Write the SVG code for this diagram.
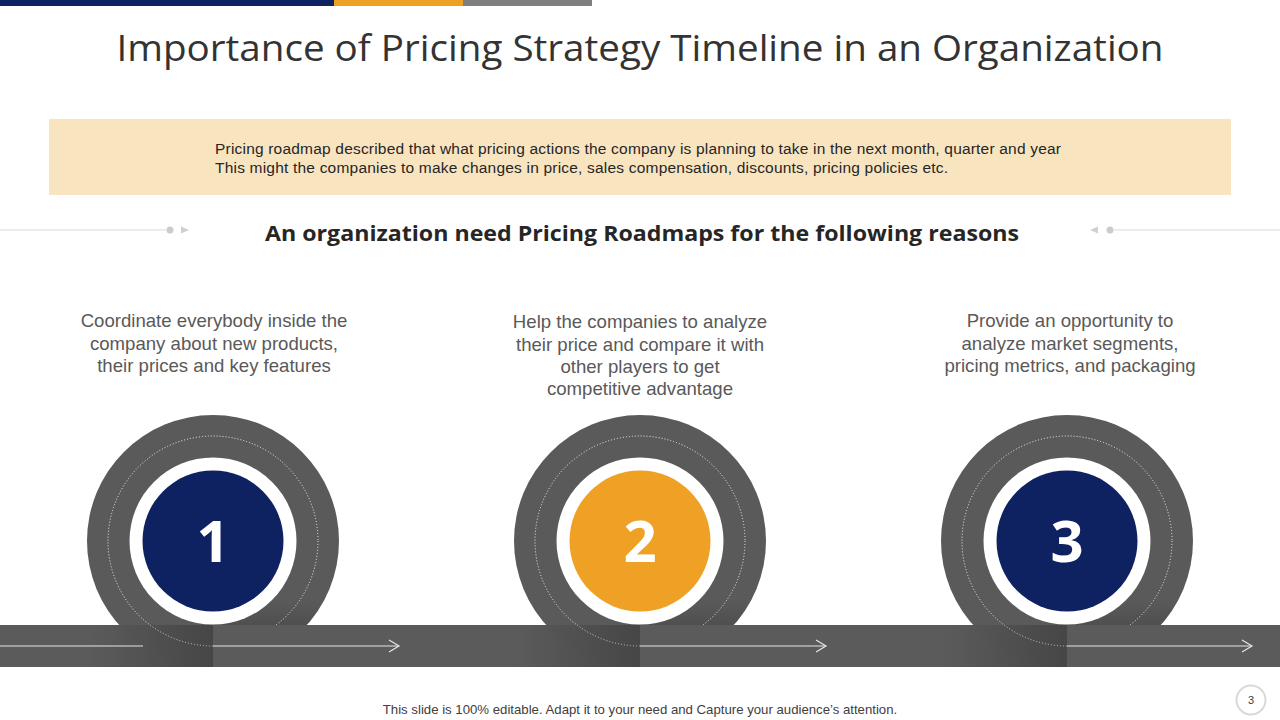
<svg xmlns="http://www.w3.org/2000/svg" width="1280" height="720" viewBox="0 0 1280 720">
<defs>
<style>
.title{font-family:"Open Sans","Liberation Sans",sans-serif;font-size:36px;fill:#333333;}
.box{font-family:"Liberation Sans",Arial,sans-serif;font-size:15.5px;fill:#262626;}
.head{font-family:"Open Sans","Liberation Sans",sans-serif;font-size:22px;font-weight:bold;fill:#262626;}
.body{font-family:"Liberation Sans",Arial,sans-serif;font-size:18.6px;fill:#595959;text-anchor:middle;}
.num{font-family:"Open Sans","Liberation Sans",sans-serif;font-size:58px;font-weight:bold;fill:#ffffff;text-anchor:middle;}
.foot{font-family:"Liberation Sans",Arial,sans-serif;font-size:13.2px;fill:#404040;text-anchor:middle;}
.outer{fill:#5a5a5a;}
.dots{fill:none;stroke:#f2f2f2;stroke-width:1;stroke-dasharray:1 2;}
.ring{fill:#ffffff;}
.bar{fill:#5b5b5b;}
.arrow{fill:none;stroke:#e6e6e6;stroke-width:1.2;}
.deco{stroke:#d9d9d9;stroke-width:1.2;fill:none;}
</style>
<linearGradient id="shade" x1="0" y1="0" x2="1" y2="0">
<stop offset="0" stop-color="#000" stop-opacity="0"/>
<stop offset="1" stop-color="#000" stop-opacity="0.22"/>
</linearGradient>
<linearGradient id="topshade" x1="0" y1="0" x2="0" y2="1">
<stop offset="0" stop-color="#000" stop-opacity="0"/>
<stop offset="1" stop-color="#000" stop-opacity="0.2"/>
</linearGradient>
<clipPath id="c1"><circle cx="213" cy="541" r="126"/></clipPath>
<clipPath id="c2"><circle cx="640" cy="541" r="126"/></clipPath>
<clipPath id="c3"><circle cx="1067" cy="541" r="126"/></clipPath>
</defs>
<rect width="1280" height="720" fill="#ffffff"/>
<g id="topbars">
<rect x="0" y="0" width="334" height="6" fill="#0e2160"/>
<rect x="334" y="0" width="129" height="6" fill="#eea124"/>
<rect x="463" y="0" width="129" height="6" fill="#7f7f7f"/>
</g>
<text class="title" x="640" y="61" text-anchor="middle" textLength="1047" lengthAdjust="spacingAndGlyphs">Importance of Pricing Strategy Timeline in an Organization</text>
<g id="intro">
<rect x="49" y="119" width="1182" height="76" fill="#f9e4c0"/>
<text class="box" x="215" y="154" textLength="846" lengthAdjust="spacing">Pricing roadmap described that what pricing actions the company is planning to take in the next month, quarter and year</text>
<text class="box" x="215" y="173" textLength="733" lengthAdjust="spacing">This might the companies to make changes in price, sales compensation, discounts, pricing policies etc.</text>
</g>
<g id="heading">
<line class="deco" x1="0" y1="230" x2="166" y2="230"/>
<circle cx="170" cy="230" r="3.5" fill="#cccccc"/>
<polygon points="181,226.5 189,230 181,233.5" fill="#d0d0d0"/>
<polygon points="1098,226.5 1090,230 1098,233.5" fill="#d0d0d0"/>
<circle cx="1110" cy="230" r="3.5" fill="#cccccc"/>
<line class="deco" x1="1114" y1="230" x2="1280" y2="230"/>
<text class="head" x="642" y="241" text-anchor="middle" textLength="754" lengthAdjust="spacingAndGlyphs">An organization need Pricing Roadmaps for the following reasons</text>
</g>
<g id="texts">
<g id="text1">
<text class="body" x="214" y="327">Coordinate everybody inside the</text>
<text class="body" x="214" y="349.5">company about new products,</text>
<text class="body" x="214" y="372">their prices and key features</text>
</g>
<g id="text2">
<text class="body" x="640" y="328">Help the companies to analyze</text>
<text class="body" x="640" y="350.5">their price and compare it with</text>
<text class="body" x="640" y="373">other players to get</text>
<text class="body" x="640" y="395">competitive advantage</text>
</g>
<g id="text3">
<text class="body" x="1070" y="327">Provide an opportunity to</text>
<text class="body" x="1070" y="349.5">analyze market segments,</text>
<text class="body" x="1070" y="372">pricing metrics, and packaging</text>
</g>
</g>
<rect id="track" class="bar" x="0" y="625" width="1280" height="42"/>
<g id="node1">
<circle class="outer" cx="213" cy="541" r="126"/>
<rect x="213" y="600" width="125" height="25" fill="url(#topshade)" opacity="0.6" clip-path="url(#c1)"/>
<circle class="dots" cx="213" cy="541" r="105"/>
<circle class="ring" cx="213" cy="541" r="83.5"/>
<circle cx="213" cy="541" r="70.5" fill="#0e2160"/>
<text class="num" x="213" y="562">1</text>
<rect x="88" y="625" width="125" height="42" fill="url(#shade)"/>
<rect class="bar" x="213" y="625" width="130" height="42"/>
</g>
<g id="node2">
<circle class="outer" cx="640" cy="541" r="126"/>
<rect x="640" y="600" width="125" height="25" fill="url(#topshade)" opacity="0.6" clip-path="url(#c2)"/>
<circle class="dots" cx="640" cy="541" r="105"/>
<circle class="ring" cx="640" cy="541" r="83.5"/>
<circle cx="640" cy="541" r="70.5" fill="#eea124"/>
<text class="num" x="640" y="562">2</text>
<rect x="515" y="625" width="125" height="42" fill="url(#shade)"/>
<rect class="bar" x="640" y="625" width="130" height="42"/>
</g>
<g id="node3">
<circle class="outer" cx="1067" cy="541" r="126"/>
<rect x="1067" y="600" width="125" height="25" fill="url(#topshade)" opacity="0.6" clip-path="url(#c3)"/>
<circle class="dots" cx="1067" cy="541" r="105"/>
<circle class="ring" cx="1067" cy="541" r="83.5"/>
<circle cx="1067" cy="541" r="70.5" fill="#0e2160"/>
<text class="num" x="1067" y="562">3</text>
<rect x="942" y="625" width="125" height="42" fill="url(#shade)"/>
<rect class="bar" x="1067" y="625" width="130" height="42"/>
</g>
<g id="connectors">
<line class="arrow" x1="0" y1="646" x2="143" y2="646"/>
<line class="arrow" x1="213" y1="646" x2="399" y2="646"/>
<polyline class="arrow" points="389,640 399,646 389,652"/>
<line class="arrow" x1="640" y1="646" x2="826" y2="646"/>
<polyline class="arrow" points="816,640 826,646 816,652"/>
<line class="arrow" x1="1067" y1="646" x2="1252" y2="646"/>
<polyline class="arrow" points="1242,640 1252,646 1242,652"/>
</g>
<text class="foot" x="640" y="714">This slide is 100% editable. Adapt it to your need and Capture your audience’s attention.</text>
<g id="page">
<circle cx="1251" cy="700" r="14.5" fill="#ffffff" stroke="#d9d9d9" stroke-width="2"/>
<text x="1251" y="704" font-family="Liberation Sans, Arial, sans-serif" font-size="11" fill="#404040" text-anchor="middle">3</text>
</g>
</svg>
